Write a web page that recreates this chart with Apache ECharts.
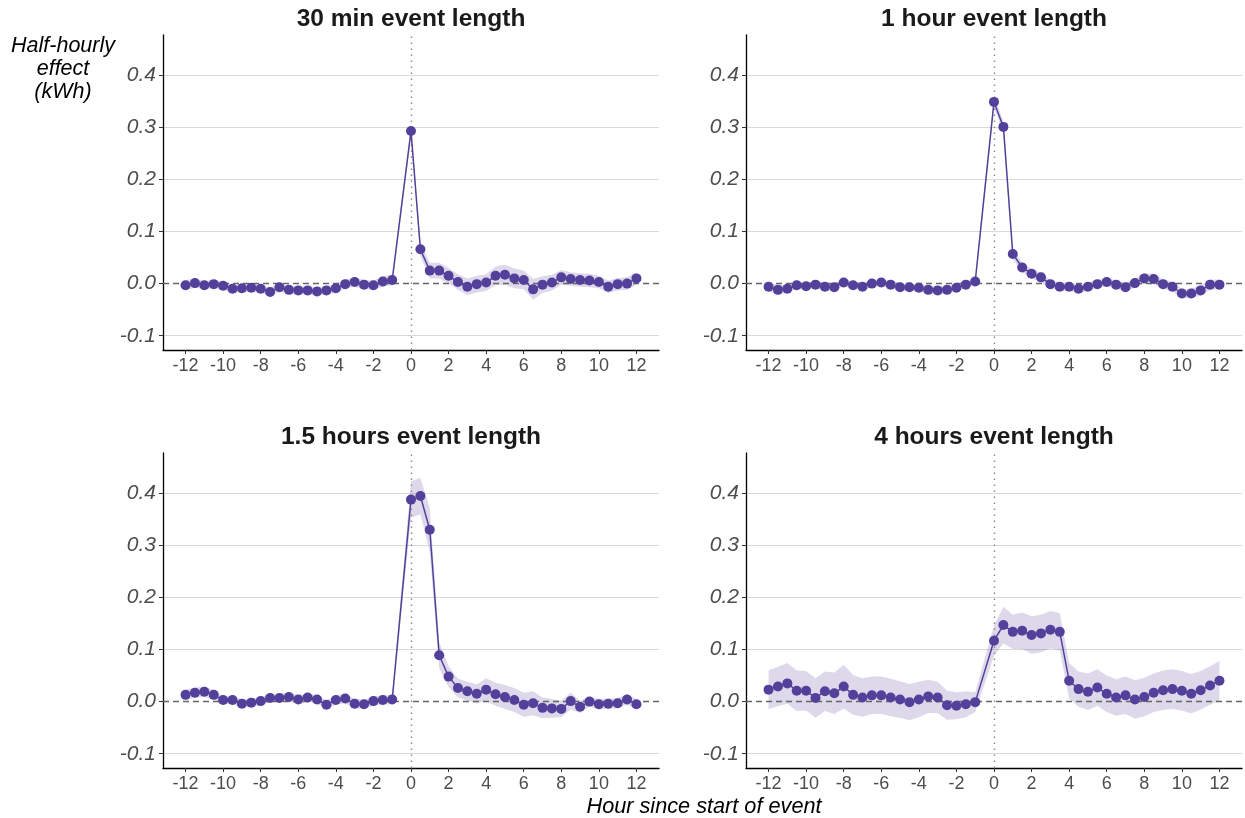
<!DOCTYPE html>
<html>
<head>
<meta charset="utf-8">
<script src="https://cdn.jsdelivr.net/npm/echarts@6/dist/echarts.min.js"></script>
<style>
html,body{margin:0;padding:0;background:#fff;}
#chart{width:1245px;height:818px;}
</style>
</head>
<body>
<div id="chart"></div>
<script>
// ---- data ----
const hours = [-12,-11.5,-11,-10.5,-10,-9.5,-9,-8.5,-8,-7.5,-7,-6.5,-6,-5.5,-5,-4.5,-4,-3.5,-3,-2.5,-2,-1.5,-1,
  0,0.5,1,1.5,2,2.5,3,3.5,4,4.5,5,5.5,6,6.5,7,7.5,8,8.5,9,9.5,10,10.5,11,11.5,12];

const panelTitles = ['30 min event length','1 hour event length','1.5 hours event length','4 hours event length'];
const xTicks = [-12,-10,-8,-6,-4,-2,0,2,4,6,8,10,12];
const yTicks = [-0.1,0,0.1,0.2,0.3,0.4];
const yAxisTitle = 'Half-hourly\neffect\n(kWh)';
const xAxisTitle = 'Hour since start of event';

const effect30min = [-0.003,0.001,-0.003,-0.001,-0.004,-0.010,-0.009,-0.008,-0.010,-0.016,-0.007,-0.012,-0.013,-0.013,-0.015,-0.013,-0.009,-0.001,0.003,-0.002,-0.003,0.004,0.007,
  0.293,0.066,0.025,0.025,0.015,0.003,-0.006,-0.001,0.002,0.015,0.017,0.010,0.007,-0.011,-0.002,0.002,0.012,0.009,0.007,0.006,0.003,-0.006,-0.001,0.000,0.010];
const ci30min = [0.010,0.009,0.008,0.008,0.008,0.008,0.008,0.008,0.008,0.008,0.008,0.008,0.008,0.008,0.008,0.008,0.009,0.009,0.009,0.009,0.009,0.010,0.010,
  0.010,0.013,0.015,0.015,0.015,0.015,0.016,0.016,0.016,0.018,0.019,0.019,0.018,0.020,0.016,0.015,0.014,0.013,0.013,0.013,0.012,0.012,0.012,0.012,0.012];

const effect1h = [-0.006,-0.012,-0.010,-0.003,-0.005,-0.002,-0.006,-0.007,0.002,-0.003,-0.006,0.000,0.002,-0.002,-0.007,-0.007,-0.008,-0.012,-0.013,-0.012,-0.008,-0.002,0.004,
  0.349,0.301,0.057,0.031,0.019,0.012,-0.001,-0.006,-0.006,-0.010,-0.006,-0.001,0.003,-0.002,-0.007,0.001,0.010,0.009,-0.001,-0.006,-0.019,-0.019,-0.013,-0.002,-0.002];
const ci1h = [0.009,0.009,0.008,0.007,0.007,0.007,0.007,0.007,0.007,0.007,0.007,0.007,0.007,0.007,0.007,0.007,0.007,0.007,0.007,0.007,0.007,0.007,0.007,
  0.012,0.011,0.010,0.009,0.009,0.009,0.008,0.008,0.008,0.008,0.008,0.008,0.008,0.008,0.008,0.009,0.010,0.010,0.009,0.009,0.009,0.009,0.010,0.010,0.010];

const effect1_5h = [0.013,0.017,0.019,0.013,0.003,0.003,-0.004,-0.002,0.001,0.007,0.007,0.009,0.004,0.008,0.004,-0.006,0.003,0.006,-0.004,-0.005,0.001,0.003,0.004,
  0.388,0.395,0.330,0.089,0.048,0.026,0.020,0.015,0.023,0.014,0.009,0.003,-0.006,-0.003,-0.012,-0.013,-0.014,0.001,-0.010,0.000,-0.005,-0.004,-0.003,0.004,-0.005];
const ci1_5h = [0.010,0.010,0.010,0.009,0.008,0.008,0.008,0.008,0.008,0.008,0.008,0.008,0.008,0.008,0.008,0.008,0.009,0.009,0.009,0.009,0.009,0.009,0.009,
  0.035,0.035,0.042,0.025,0.020,0.018,0.018,0.018,0.022,0.022,0.023,0.023,0.023,0.023,0.020,0.018,0.016,0.016,0.012,0.010,0.010,0.010,0.010,0.010,0.010];

const effect4h = [0.023,0.029,0.035,0.021,0.021,0.007,0.020,0.016,0.029,0.013,0.008,0.012,0.012,0.008,0.004,-0.001,0.004,0.010,0.008,-0.007,-0.008,-0.005,-0.001,
  0.117,0.147,0.134,0.136,0.128,0.131,0.138,0.134,0.040,0.024,0.019,0.027,0.015,0.008,0.012,0.004,0.009,0.017,0.022,0.024,0.021,0.015,0.022,0.031,0.040];
const ci4h = [0.037,0.038,0.039,0.039,0.038,0.038,0.038,0.040,0.042,0.038,0.037,0.036,0.036,0.036,0.035,0.035,0.034,0.032,0.030,0.028,0.026,0.025,0.019,
  0.029,0.035,0.033,0.035,0.036,0.036,0.036,0.036,0.034,0.034,0.035,0.035,0.035,0.035,0.036,0.037,0.037,0.037,0.038,0.038,0.038,0.038,0.037,0.037,0.038];

const effects = [effect30min, effect1h, effect1_5h, effect4h];
const cis = [ci30min, ci1h, ci1_5h, ci4h];

// ---- layout / style ----
const FONT = 'Liberation Sans';
const LINE = '#53409a';
const BAND = 'rgba(83,64,154,0.2)';
const grids = [
  {left:163, top:35, width:496, height:315},
  {left:746, top:35, width:496, height:315},
  {left:163, top:453, width:496, height:315},
  {left:746, top:453, width:496, height:315}
];

const chart = echarts.init(document.getElementById('chart'), null, {renderer:'canvas'});

const option = {
  animation:false,
  backgroundColor:'#fff',
  title: [],
  grid: grids.map(g => Object.assign({containLabel:false}, g)),
  xAxis: [], yAxis: [], series: []
};

grids.forEach((g, k) => {
  option.title.push({
    text: panelTitles[k], left: g.left + g.width/2 - 5, top: g.top - 33, textAlign:'center',
    textStyle:{fontFamily:FONT, fontWeight:'bold', fontSize:24.5, color:'#1a1a1a'}
  });
  option.xAxis.push({
    type:'value', gridIndex:k, min:-13.2, max:13.2,
    axisLine:{show:true, onZero:false, lineStyle:{color:'#000', width:1.3}},
    axisTick:{show:true, length:4, customValues:xTicks, lineStyle:{color:'#333', width:1}},
    axisLabel:{show:true, customValues:xTicks, margin:7, fontFamily:FONT, fontSize:18, color:'#4d4d4d',
      formatter: v => String(v)},
    splitLine:{show:false}
  });
  option.yAxis.push({
    type:'value', gridIndex:k, min:-0.1275, max:0.4775,
    axisLine:{show:true, onZero:false, lineStyle:{color:'#000', width:1.3}},
    axisTick:{show:true, length:4, customValues:yTicks, lineStyle:{color:'#333', width:1}},
    axisLabel:{show:true, customValues:yTicks, margin:7, fontFamily:FONT, fontStyle:'italic', fontSize:21, color:'#4d4d4d',
      formatter: v => v.toFixed(1)},
    splitLine:{show:false}
  });
  const vals = effects[k], ci = cis[k];
  const lo = vals.map((v,i) => v - ci[i]);
  const hi = vals.map((v,i) => v + ci[i]);
  // gridlines host
  option.series.push({
    type:'line', xAxisIndex:k, yAxisIndex:k, data:[], z:0, silent:true,
    markLine:{z:0, silent:true, symbol:['none','none'], label:{show:false}, animation:false,
      lineStyle:{color:'#d9d9d9', width:1, type:'solid'},
      data: yTicks.filter(t => t !== 0).map(t => ({yAxis:t}))}
  });
  // confidence band
  option.series.push({
    type:'custom', xAxisIndex:k, yAxisIndex:k, z:1, silent:true,
    data: hours.map((h,i) => [h, lo[i], hi[i]]),
    encode:{x:0, y:[1,2]},
    renderItem: function(params, api){
      if (params.dataIndex !== 0) return null;
      const pts = [];
      for (let i = 0; i < hours.length; i++) pts.push(api.coord([hours[i], hi[i]]));
      for (let i = hours.length - 1; i >= 0; i--) pts.push(api.coord([hours[i], lo[i]]));
      return {type:'polygon', shape:{points:pts}, style:{fill:BAND, stroke:null}};
    }
  });
  // reference lines
  option.series.push({
    type:'line', xAxisIndex:k, yAxisIndex:k, data:[], z:2, silent:true,
    markLine:{z:2, silent:true, symbol:['none','none'], label:{show:false}, animation:false,
      data:[
        {yAxis:0, lineStyle:{color:'#666', width:1.3, type:[6,4]}},
        {xAxis:0, lineStyle:{color:'#888', width:1.4, type:[1.4,4.6]}}
      ]}
  });
  // effect line with points
  option.series.push({
    type:'line', xAxisIndex:k, yAxisIndex:k, z:3,
    data: hours.map((h,i) => [h, vals[i]]),
    symbol:'circle', symbolSize:10, showAllSymbol:true,
    lineStyle:{color:LINE, width:1.5},
    itemStyle:{color:LINE}
  });
});

option.title.push({
  text: yAxisTitle, left:58, top:30, textAlign:'center',
  textStyle:{fontFamily:FONT, fontStyle:'italic', fontWeight:'normal', fontSize:21.5, lineHeight:23, color:'#000', align:'center'}
});
option.title.push({
  text: xAxisTitle, left:699, top:791, textAlign:'center',
  textStyle:{fontFamily:FONT, fontStyle:'italic', fontWeight:'normal', fontSize:21.7, color:'#000'}
});

chart.setOption(option);
</script>
</body>
</html>
